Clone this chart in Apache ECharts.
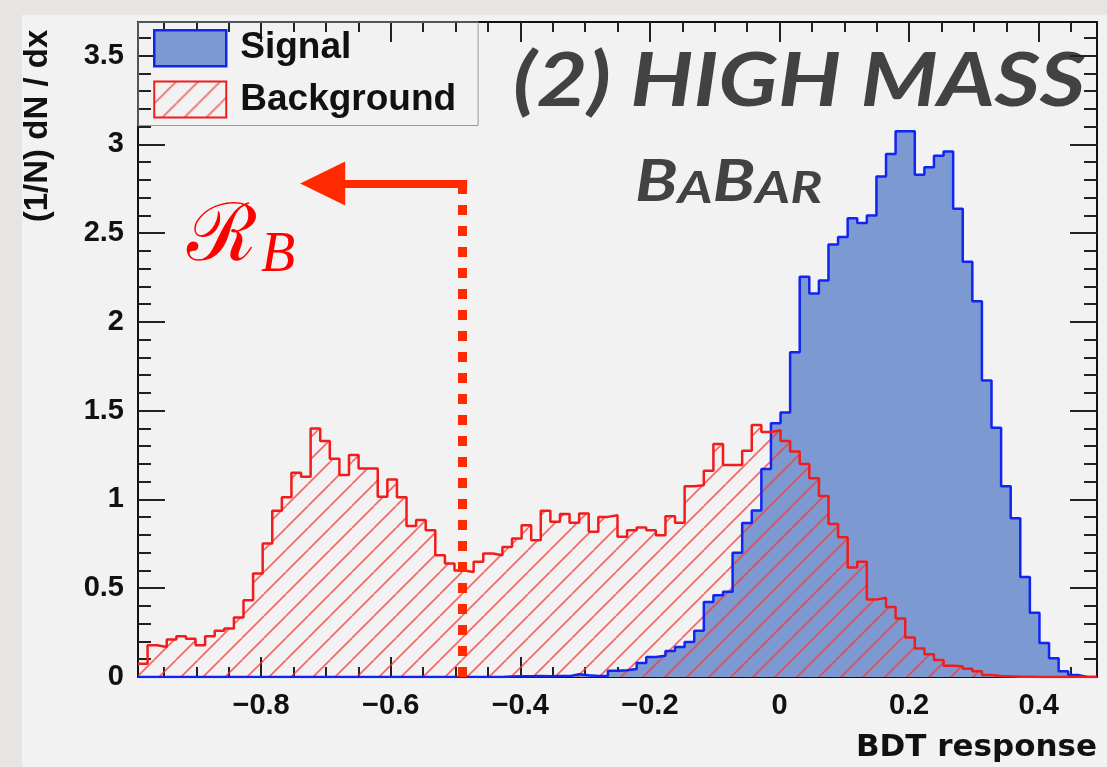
<!DOCTYPE html>
<html>
<head>
<meta charset="utf-8">
<script src="https://cdn.jsdelivr.net/npm/echarts@6/dist/echarts.min.js"></script>
<style>
  html, body { margin: 0; padding: 0; background: #e7e5e2; }
  #chart { width: 1107px; height: 767px; }
</style>
</head>
<body>
<div id="chart"></div>
<script>
// BDT output binning: 100 bins on [-0.99, 0.49]
const binLow = -0.99;
const binWidth = 0.0148;
const axisMin = -0.99;
const axisMax = 0.49;

// (1/N) dN/dx per bin, signal sample
const signal = [
  0, 0, 0, 0, 0, 0, 0, 0, 0, 0,
  0, 0, 0, 0, 0, 0, 0, 0, 0, 0,
  0, 0, 0, 0, 0, 0, 0, 0, 0, 0,
  0, 0, 0, 0, 0, 0, 0, 0, 0.003, 0.004,
  0.004, 0.006, 0.004, 0.005, 0.005, 0.015, 0.01, 0.006, 0.006, 0.035,
  0.038, 0.045, 0.079, 0.113, 0.12, 0.147, 0.169, 0.197, 0.26, 0.423,
  0.461, 0.48, 0.70, 0.868, 0.938, 1.172, 1.43, 1.49, 1.83, 2.255,
  2.16, 2.234, 2.436, 2.479, 2.585, 2.557, 2.60, 2.82, 2.947, 3.074,
  3.074, 2.83, 2.872, 2.936, 2.96, 2.638, 2.34, 2.117, 1.67, 1.404,
  1.074, 0.894, 0.564, 0.362, 0.191, 0.106, 0.032, 0.011, 0, 0
];

// (1/N) dN/dx per bin, background sample
const background = [
  0.075, 0.179, 0.169, 0.211, 0.23, 0.216, 0.179, 0.23, 0.26, 0.273,
  0.335, 0.433, 0.583, 0.752, 0.936, 1.012, 1.15, 1.128, 1.40, 1.33,
  1.23, 1.138, 1.25, 1.175, 1.175, 1.015, 1.113, 1.012, 0.85, 0.884,
  0.827, 0.686, 0.64, 0.60, 0.592, 0.649, 0.696, 0.686, 0.733, 0.78,
  0.855, 0.77, 0.936, 0.874, 0.918, 0.869, 0.921, 0.818, 0.902, 0.911,
  0.79, 0.827, 0.842, 0.827, 0.799, 0.906, 0.869, 1.075, 1.08, 1.162,
  1.312, 1.194, 1.194, 1.275, 1.42, 1.38, 1.39, 1.33, 1.27, 1.20,
  1.12, 1.02, 0.862, 0.787, 0.617, 0.649, 0.436, 0.447, 0.394, 0.33,
  0.223, 0.16, 0.128, 0.096, 0.064, 0.06, 0.047, 0.032, 0.011, 0.006,
  0.004, 0.002, 0.001, 0, 0, 0, 0, 0, 0, 0
];

// Axis ticks
const xTickValues = [-0.8, -0.6, -0.4, -0.2, 0, 0.2, 0.4];
const xMinorValues = [-0.95, -0.9, -0.85, -0.75, -0.7, -0.65, -0.55, -0.5, -0.45,
  -0.35, -0.3, -0.25, -0.15, -0.1, -0.05, 0.05, 0.1, 0.15, 0.25, 0.3, 0.35, 0.45];
const yTickValues = [0, 0.5, 1, 1.5, 2, 2.5, 3, 3.5];
const yMinorValues = [0.1, 0.2, 0.3, 0.4, 0.6, 0.7, 0.8, 0.9, 1.1, 1.2, 1.3, 1.4,
  1.6, 1.7, 1.8, 1.9, 2.1, 2.2, 2.3, 2.4, 2.6, 2.7, 2.8, 2.9, 3.1, 3.2, 3.3, 3.4, 3.6];
const yMax = 3.69;

// Selection cut on the BDT response and the arrow pointing to region R_B
const cutValue = -0.49;
const arrowLevel = 2.78;
const arrowEnd = -0.705;

// Step outline points: left edge of each bin, plus the closing right edge
function stepPoints(values) {
  const pts = values.map((v, i) => [binLow + i * binWidth, v]);
  pts.push([binLow + values.length * binWidth, values[values.length - 1]]);
  return pts;
}

// ROOT-style 45 degree hatch
function hatchPattern(color) {
  const size = 22;
  const c = document.createElement('canvas');
  c.width = size; c.height = size;
  const ctx = c.getContext('2d');
  ctx.strokeStyle = color;
  ctx.lineWidth = 1.7;
  for (const off of [-size, 0, size]) {
    ctx.beginPath();
    ctx.moveTo(off, size);
    ctx.lineTo(off + size, 0);
    ctx.stroke();
  }
  return { image: c, repeat: 'repeat' };
}

const SIG_FILL = '#7d99d1';
const SIG_LINE = '#1024f2';
const BKG_LINE = '#f21c1c';
const CUT_COLOR = '#ff2a00';
const hatch = hatchPattern('rgba(238,60,60,0.75)');

const labelFont = { fontFamily: 'Liberation Sans', fontWeight: 'bold', fontSize: 29, color: '#111' };
const tickStyle = { color: '#222', width: 2 };
const frameStyle = { color: '#111', width: 2 };
const minus = v => String(v).replace('-', '\u2212');

function xAxis(position, values, length, withLine, withLabels) {
  return {
    type: 'value', min: axisMin, max: axisMax, position: position,
    axisLine: { show: withLine, onZero: false, lineStyle: frameStyle },
    axisTick: { show: true, inside: true, length: length, customValues: values, lineStyle: tickStyle },
    axisLabel: withLabels
      ? Object.assign({ show: true, customValues: values, margin: 14, formatter: minus }, labelFont)
      : { show: false },
    splitLine: { show: false }
  };
}
function yAxis(position, values, length, withLine, withLabels) {
  return {
    type: 'value', min: 0, max: yMax, position: position,
    axisLine: { show: withLine, onZero: false, lineStyle: frameStyle },
    axisTick: { show: true, inside: true, length: length, customValues: values, lineStyle: tickStyle },
    axisLabel: withLabels
      ? Object.assign({ show: true, customValues: values, margin: 14 }, labelFont)
      : { show: false },
    splitLine: { show: false }
  };
}

const chart = echarts.init(document.getElementById('chart'), null, { renderer: 'canvas' });

chart.setOption({
  animation: false,
  backgroundColor: 'transparent',
  grid: { left: 138, top: 22, width: 959, height: 655, containLabel: false, outerBoundsMode: 'none' },
  xAxis: [
    xAxis('bottom', xTickValues, 20, true, true),
    xAxis('bottom', xMinorValues, 10, false, false),
    xAxis('top', xTickValues, 20, true, false),
    xAxis('top', xMinorValues, 10, false, false)
  ],
  yAxis: [
    yAxis('left', yTickValues, 27, true, true),
    yAxis('left', yMinorValues, 13, false, false),
    yAxis('right', yTickValues, 27, true, false),
    yAxis('right', yMinorValues, 13, false, false)
  ],
  legend: {
    orient: 'vertical', left: 138, top: 22,
    padding: [7, 22, 7, 15],
    itemWidth: 72, itemHeight: 36, itemGap: 13,
    borderColor: '#8e9aa6', borderWidth: 1,
    selectedMode: false,
    textStyle: { fontFamily: 'Liberation Sans', fontWeight: 'bold', fontSize: 37, color: '#111', padding: [0, 0, 0, 9] },
    data: [
      { name: 'Signal', icon: 'rect', itemStyle: { color: SIG_FILL, borderColor: SIG_LINE, borderWidth: 2.5 } },
      { name: 'Background', icon: 'rect', itemStyle: { color: hatch, borderColor: BKG_LINE, borderWidth: 2 } }
    ]
  },
  series: [
    {
      name: 'Signal', type: 'line', step: 'end', xAxisIndex: 0, yAxisIndex: 0,
      data: stepPoints(signal),
      symbol: 'none', showSymbol: false,
      lineStyle: { color: SIG_LINE, width: 2.5 },
      itemStyle: { color: SIG_FILL },
      areaStyle: { color: SIG_FILL, opacity: 1 },
      emphasis: { disabled: true }
    },
    {
      name: 'Background', type: 'line', step: 'end', xAxisIndex: 0, yAxisIndex: 0,
      data: stepPoints(background),
      symbol: 'none', showSymbol: false,
      lineStyle: { color: BKG_LINE, width: 2.5 },
      itemStyle: { color: BKG_LINE },
      areaStyle: { color: hatch, opacity: 1 },
      emphasis: { disabled: true },
      markLine: {
        silent: true, z: 5, animation: false,
        symbol: ['none', 'none'],
        label: { show: false },
        emphasis: { disabled: true },
        data: [
          [
            { coord: [cutValue, 0], lineStyle: { type: [10, 11], width: 9, color: CUT_COLOR, cap: 'butt' } },
            { coord: [cutValue, arrowLevel] }
          ],
          [
            { coord: [cutValue + 0.008, arrowLevel], lineStyle: { type: 'solid', width: 8, color: CUT_COLOR, cap: 'butt' } },
            { coord: [arrowEnd, arrowLevel], symbol: 'triangle', symbolSize: [44, 45] }
          ]
        ]
      }
    }
  ],
  graphic: [
    { type: 'rect', z: -10, silent: true, shape: { x: 22, y: 15, width: 1085, height: 752 }, style: { fill: '#f2f2f2' } },
    {
      type: 'text', x: 38, y: 126, rotation: Math.PI / 2, silent: true,
      style: { text: '(1/N) dN / dx', font: 'bold 33px "Liberation Sans"', fill: '#111', align: 'center', verticalAlign: 'middle' }
    },
    {
      type: 'text', x: 1097, y: 748, silent: true,
      style: { text: 'BDT response', font: 'bold 31px "DejaVu Sans"', fill: '#111', align: 'right', verticalAlign: 'middle' }
    },
    {
      type: 'text', x: 513, y: 82, scaleX: 1.19, silent: true,
      style: { text: '(2) HIGH MASS', font: 'italic bold 74px Lato', fill: '#424242', align: 'left', verticalAlign: 'middle' }
    },
    {
      type: 'text', x: 635, y: 211, scaleX: 1.22, silent: true,
      style: {
        text: '{b|B}{s|A}{b|B}{s|AR}',
        align: 'left', verticalAlign: 'bottom',
        rich: {
          b: { font: 'italic bold 57px Lato', fill: '#424242', verticalAlign: 'bottom' },
          s: { font: 'italic bold 44px Lato', fill: '#424242', verticalAlign: 'bottom' }
        }
      }
    },
    {
      type: 'text', x: 187, y: 284, silent: true,
      style: {
        text: '{r|\u211B}{b|B}',
        align: 'left', verticalAlign: 'bottom',
        rich: {
          r: { font: '80px "DejaVu Serif"', fill: '#ff0000', verticalAlign: 'bottom', padding: [0, 4, 5, 0] },
          b: { font: 'italic 56px "Liberation Serif"', fill: '#ff0000', verticalAlign: 'bottom' }
        }
      }
    }
  ]
});
</script>
</body>
</html>
